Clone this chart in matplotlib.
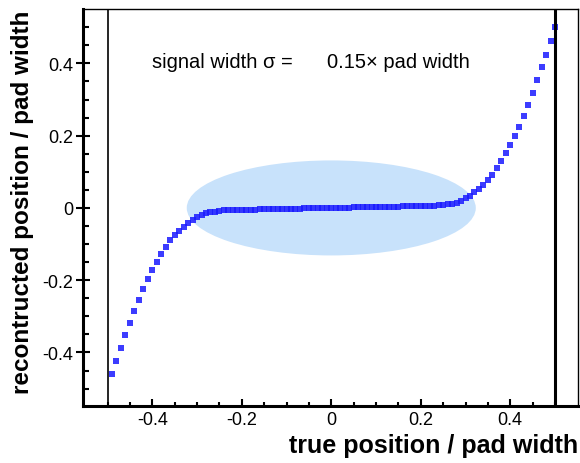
import numpy as np
import matplotlib.pyplot as plt
from matplotlib.patches import Ellipse

plt.rcParams['font.family'] = ['Liberation Sans', 'DejaVu Sans']

# true position / pad width
true_pos = [-0.49, -0.48, -0.47, -0.46, -0.45, -0.44, -0.43, -0.42, -0.41, -0.40,
            -0.39, -0.38, -0.37, -0.36, -0.35, -0.34, -0.33, -0.32, -0.31, -0.30,
            -0.29, -0.28, -0.27, -0.26, -0.25, -0.24, -0.23, -0.22, -0.21, -0.20,
            -0.19, -0.18, -0.17, -0.16, -0.15, -0.14, -0.13, -0.12, -0.11, -0.10,
            -0.09, -0.08, -0.07, -0.06, -0.05, -0.04, -0.03, -0.02, -0.01, 0.00,
            0.01, 0.02, 0.03, 0.04, 0.05, 0.06, 0.07, 0.08, 0.09, 0.10,
            0.11, 0.12, 0.13, 0.14, 0.15, 0.16, 0.17, 0.18, 0.19, 0.20,
            0.21, 0.22, 0.23, 0.24, 0.25, 0.26, 0.27, 0.28, 0.29, 0.30,
            0.31, 0.32, 0.33, 0.34, 0.35, 0.36, 0.37, 0.38, 0.39, 0.40,
            0.41, 0.42, 0.43, 0.44, 0.45, 0.46, 0.47, 0.48, 0.49, 0.50]

# reconstructed position / pad width
reco_pos = [-0.460, -0.424, -0.388, -0.352, -0.318, -0.285, -0.255, -0.224, -0.197, -0.173,
            -0.150, -0.127, -0.108, -0.090, -0.076, -0.063, -0.052, -0.042, -0.033, -0.026,
            -0.020, -0.015, -0.012, -0.010, -0.008, -0.007, -0.0065, -0.006, -0.0056, -0.0052,
            -0.005, -0.0047, -0.0044, -0.0041, -0.0038, -0.0035, -0.0033, -0.003, -0.0028, -0.0025,
            -0.0023, -0.002, -0.0018, -0.0015, -0.0013, -0.001, -0.0008, -0.0005, -0.0003, 0.0,
            0.0003, 0.0005, 0.0008, 0.001, 0.0013, 0.0015, 0.0018, 0.002, 0.0023, 0.0025,
            0.0028, 0.003, 0.0033, 0.0035, 0.0038, 0.0041, 0.0044, 0.0047, 0.005, 0.0052,
            0.0056, 0.006, 0.0065, 0.007, 0.008, 0.010, 0.012, 0.015, 0.020, 0.027,
            0.034, 0.043, 0.053, 0.064, 0.077, 0.092, 0.110, 0.130, 0.151, 0.174,
            0.198, 0.225, 0.255, 0.286, 0.319, 0.353, 0.389, 0.424, 0.462, 0.500]

fig = plt.figure(figsize=(5.8, 4.64), dpi=100)
ax = fig.add_axes([0.143, 0.123, 0.854, 0.855])

# region where the response is flat
ax.add_patch(Ellipse((0, 0), 0.646, 0.263, facecolor='#c8e2fb', edgecolor='none', zorder=1))

ax.plot(true_pos, reco_pos, 's', color='#1a1aff', markersize=4.6, markeredgewidth=0,
        alpha=0.85, zorder=3)

# pad edges
ax.axvline(-0.5, color='black', lw=1.2, zorder=2)
ax.axvline(0.5, color='black', lw=2.2, zorder=4)

ax.set_xlim(-0.555, 0.552)
ax.set_ylim(-0.548, 0.55)

ax.set_xticks([-0.4, -0.2, 0, 0.2, 0.4])
ax.set_xticklabels(['-0.4', '-0.2', '0', '0.2', '0.4'])
ax.set_yticks([-0.4, -0.2, 0, 0.2, 0.4])
ax.set_yticklabels(['-0.4', '-0.2', '0', '0.2', '0.4'])
ax.set_xticks(np.arange(-0.5, 0.51, 0.05), minor=True)
ax.set_yticks(np.arange(-0.5, 0.51, 0.05), minor=True)

ax.tick_params(axis='x', which='major', direction='in', length=5, width=1.5,
               labelsize=13, pad=4)
ax.tick_params(axis='x', which='minor', direction='in', length=3, width=1.5)
ax.tick_params(axis='y', which='major', direction='inout', length=10, width=1.5,
               labelsize=13, pad=2)
ax.tick_params(axis='y', which='minor', direction='in', length=4, width=1.5)

for s in ['left', 'bottom']:
    ax.spines[s].set_linewidth(2.2)
for s in ['top', 'right']:
    ax.spines[s].set_linewidth(1.0)

ax.text(-0.40, 0.405, 'signal width σ =', fontsize=14.5, va='center', ha='left')
ax.text(-0.01, 0.405, '0.15× pad width', fontsize=14.5, va='center', ha='left')

ax.set_xlabel('true position / pad width', fontsize=18, fontweight='bold',
              loc='right', labelpad=3)
ax.set_ylabel('recontructed position / pad width', fontsize=17.5, fontweight='bold',
              loc='top', labelpad=6)

fig.savefig('out.png', dpi=100)
